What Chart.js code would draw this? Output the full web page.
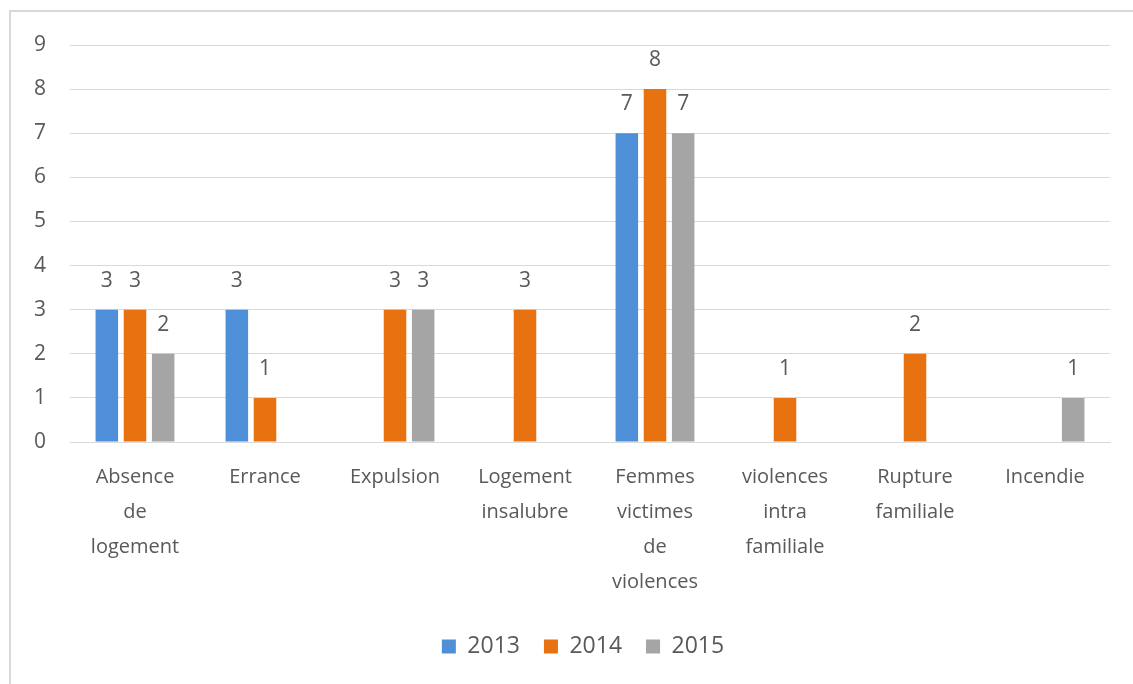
<!DOCTYPE html>
<html>
<head>
<meta charset="utf-8">
<script src="https://cdn.jsdelivr.net/npm/chart.js@4"></script>
<style>
html,body{margin:0;padding:0;background:#fff;}
#wrap{width:1133px;height:684px;position:relative;}
</style>
</head>
<body>
<div id="wrap"><canvas id="c" width="1133" height="684"></canvas></div>
<script>
const categories = [
  ["Absence","de","logement"],
  ["Errance"],
  ["Expulsion"],
  ["Logement","insalubre"],
  ["Femmes","victimes","de","violences"],
  ["violences","intra","familiale"],
  ["Rupture","familiale"],
  ["Incendie"]
];
const series2013 = [3, 3, null, null, 7, null, null, null];
const series2014 = [3, 1, 3, 3, 8, 1, 2, null];
const series2015 = [2, null, 3, null, 7, null, null, 1];
const yTicks = [0,1,2,3,4,5,6,7,8,9];

const FONT = "'Open Sans', 'Liberation Sans', sans-serif";
const TXT = '#595959';

const frame = {
  id: 'frame',
  beforeDraw(chart) {
    const ctx = chart.ctx;
    ctx.save();
    ctx.fillStyle = '#fff';
    ctx.fillRect(0, 0, chart.width, chart.height);
    ctx.strokeStyle = '#d9d9d9';
    ctx.lineWidth = 2;
    ctx.beginPath();
    ctx.moveTo(10, chart.height);
    ctx.lineTo(10, 11);
    ctx.lineTo(chart.width, 11);
    ctx.stroke();
    ctx.restore();
  }
};

const legendShift = {
  id: 'legendShift',
  afterLayout(chart) {
    if (chart.legend) {
      chart.legend.left += 28;
      chart.legend.right += 28;
    }
  }
};

const valueLabels = {
  id: 'valueLabels',
  afterDatasetsDraw(chart) {
    const ctx = chart.ctx;
    ctx.save();
    ctx.font = '21px ' + FONT;
    ctx.fillStyle = TXT;
    ctx.textAlign = 'center';
    ctx.textBaseline = 'middle';
    chart.data.datasets.forEach((ds, i) => {
      const meta = chart.getDatasetMeta(i);
      meta.data.forEach((bar, j) => {
        const v = ds.data[j];
        if (v === null || v === undefined) return;
        ctx.fillText(String(v), bar.x, bar.y - 29);
      });
    });
    ctx.restore();
  }
};

new Chart(document.getElementById('c'), {
  type: 'bar',
  data: {
    labels: categories,
    datasets: [
      { label: '2013', data: series2013, backgroundColor: '#4E8FD8' },
      { label: '2014', data: series2014, backgroundColor: '#E8720F' },
      { label: '2015', data: series2015, backgroundColor: '#A5A5A5' }
    ]
  },
  options: {
    responsive: false,
    animation: false,
    devicePixelRatio: 1,
    layout: { padding: { left: 0, right: 23, top: 45, bottom: 16 } },
    datasets: { bar: { categoryPercentage: 0.65, barPercentage: 0.8 } },
    plugins: {
      legend: {
        position: 'bottom',
        labels: {
          font: { family: FONT, size: 23 },
          color: TXT,
          boxWidth: 14,
          boxHeight: 14,
          padding: 24
        }
      },
      tooltip: { enabled: false }
    },
    scales: {
      x: {
        grid: { display: false, drawTicks: false },
        border: { display: true, color: '#d9d9d9' },
        ticks: {
          font: { family: FONT, size: 20, lineHeight: 1.75 },
          color: TXT,
          padding: 18,
          maxRotation: 0,
          autoSkip: false
        },
        afterFit(scale) { scale.height = 169; }
      },
      y: {
        min: 0,
        max: 9,
        afterBuildTicks(scale) { scale.ticks = yTicks.map(v => ({ value: v })); },
        grid: { color: '#d9d9d9', drawTicks: false },
        border: { display: false },
        ticks: {
          font: { family: FONT, size: 21 },
          color: TXT,
          padding: 24
        },
        afterFit(scale) { scale.width = 70; }
      }
    }
  },
  plugins: [frame, legendShift, valueLabels]
});
</script>
</body>
</html>
